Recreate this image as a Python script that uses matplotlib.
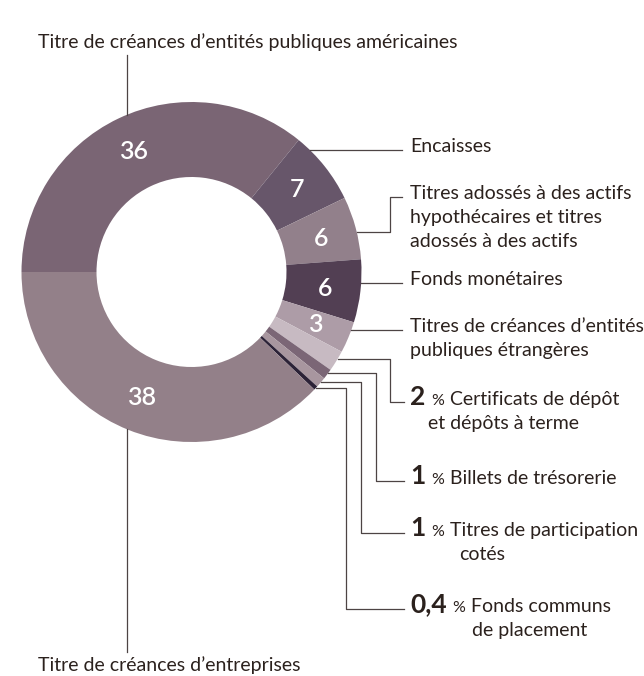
import numpy as np
import matplotlib
matplotlib.use("Agg")
from matplotlib import pyplot as plt

W, H = 644, 676

# parts of the portfolio, clockwise from 9 o'clock
values = [36, 7, 6, 6, 3, 2, 1, 1, 0.4, 38]
colors = ['#7a6574', '#67566a', '#92808b', '#523f53', '#ad9ca7',
          '#c7bac2', '#7b6676', '#a8969f', '#2c2237', '#938089']
inner_labels = ['36', '7', '6', '6', '3', '', '', '', '', '38']

right_labels = [['Encaisses'],
                ['Titres adossés à des actifs', 'hypothécaires et titres', 'adossés à des actifs'],
                ['Fonds monétaires'],
                ['Titres de créances d\u2019entités', 'publiques étrangères']]
pct_labels = [('2', 'Certificats de dépôt', 'et dépôts à terme'),
              ('1', 'Billets de trésorerie', ''),
              ('1', 'Titres de participation', 'cotés'),
              ('0,4', 'Fonds communs', 'de placement')]
top_label = 'Titre de créances d\u2019entités publiques américaines'
bottom_label = 'Titre de créances d\u2019entreprises'

plt.rcParams['font.family'] = ['Lato', 'DejaVu Sans']
txt = '#2b211d'
line_c = '#4d4444'
fs = 14

fig = plt.figure(figsize=(W / 100, H / 100), dpi=100)
ax = fig.add_axes([0, 0, 1, 1])

cx, cy, R = 191.5, 272, 170


def py(y):
    # pixel rows from the top -> data y
    return H - y


wedges, _ = ax.pie(values, colors=colors, startangle=180, counterclock=False,
                   radius=R, center=(cx, py(cy)), frame=True,
                   wedgeprops=dict(width=75, linewidth=0))
ax.set_xlim(0, W)
ax.set_ylim(0, H)
ax.axis('off')

for w, lab in zip(wedges, inner_labels):
    if not lab:
        continue
    a = np.deg2rad((w.theta1 + w.theta2) / 2)
    ax.text(cx + 0.79 * R * np.cos(a), py(cy) + 0.79 * R * np.sin(a) - 1, lab,
            color='white', fontsize=18, fontweight=600, ha='center', va='center')


def edge_x(y):
    return cx + np.sqrt(R ** 2 - (y - cy) ** 2)


def leader(y0, y1, xe=None, x_end=402):
    x0 = edge_x(y0)
    if xe is None:
        ax.plot([x0, x_end], [py(y0), py(y0)], color=line_c, lw=0.9)
    else:
        ax.plot([x0, xe, xe, x_end], [py(y0), py(y0), py(y1), py(y1)],
                color=line_c, lw=0.9)


# top & bottom labels
xt = 127
ytop = cy - np.sqrt(R ** 2 - (xt - cx) ** 2)
ybot = cy + np.sqrt(R ** 2 - (xt - cx) ** 2)
ax.plot([xt, xt], [py(55), py(ytop)], color=line_c, lw=0.9)
ax.plot([xt, xt], [py(ybot), py(652)], color=line_c, lw=0.9)
ax.text(38, py(48), top_label, fontsize=fs, color=txt, va='baseline')
ax.text(38, py(671), bottom_label, fontsize=fs, color=txt, va='baseline')

# right side labels
starts = [150, 232, 283, 330]
ends = [150, 197, 283, 330]
elbows = [None, 390, None, None]
for lines, y0, y1, xe in zip(right_labels, starts, ends, elbows):
    leader(y0, y1, xe)
    for i, s in enumerate(lines):
        ax.text(410, py(y1 + 2 + 24 * i), s, fontsize=fs, color=txt, va='baseline')

fig.canvas.draw()
r = fig.canvas.get_renderer()

# percent labels, hanging off the small slices
p_starts = [359, 373, 382, 388]
p_elbows = [390, 376, 361, 346]
p_ends = [402, 481, 533, 609]
sub_x = [428, None, 459, 472]
for (num, l1, l2), y0, xe, y1, sx in zip(pct_labels, p_starts, p_elbows, p_ends, sub_x):
    leader(y0, y1, xe, x_end=404)
    yb = py(y1 + 3)
    t1 = ax.text(410, yb, num, fontsize=19, fontweight='bold', color=txt,
                 va='baseline')
    bb = t1.get_window_extent(r)
    t2 = ax.text(bb.x1 + 6, yb, '%', fontsize=11.5, color=txt, va='baseline')
    bb2 = t2.get_window_extent(r)
    ax.text(bb2.x1 + 6, yb, l1, fontsize=fs, color=txt, va='baseline')
    if l2:
        ax.text(sx, yb - 24, l2, fontsize=fs, color=txt, va='baseline')

fig.savefig('out.png', dpi=100)
